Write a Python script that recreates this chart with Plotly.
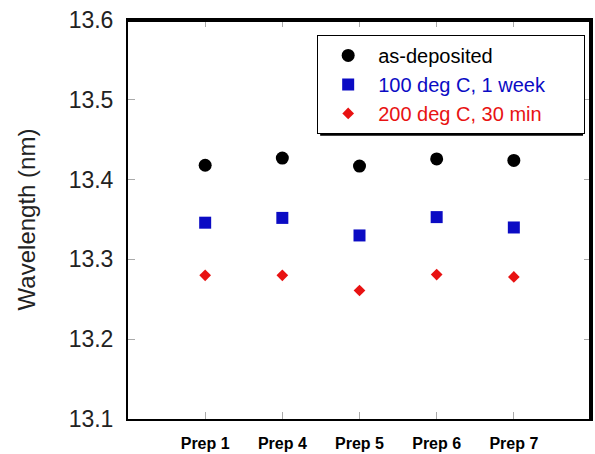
import plotly.graph_objects as go

categories = ["Prep 1", "Prep 4", "Prep 5", "Prep 6", "Prep 7"]
as_deposited = [13.418, 13.427, 13.417, 13.426, 13.424]
week_100 = [13.346, 13.352, 13.330, 13.353, 13.340]
min_200 = [13.280, 13.280, 13.261, 13.281, 13.278]
y_ticks = [13.1, 13.2, 13.3, 13.4, 13.5, 13.6]

xpos = list(range(1, len(categories) + 1))
FONT = "Liberation Sans, Arial, sans-serif"
BLUE = "#0b0bc4"
RED = "#e81212"
NB = "\u00a0"
X_RANGE = [0, 6]
Y_RANGE = [13.0999, 13.6001]

fig = go.Figure()
fig.add_trace(go.Scatter(x=xpos, y=as_deposited, mode="markers",
                         name="as-deposited",
                         marker=dict(symbol="circle", size=13, color="black")))
fig.add_trace(go.Scatter(x=xpos, y=week_100, mode="markers",
                         name=f"<span style='color:{BLUE}'>100 deg C, 1 week</span>" + NB * 6,
                         marker=dict(symbol="square", size=12, color=BLUE)))
fig.add_trace(go.Scatter(x=xpos, y=min_200, mode="markers",
                         name=f"<span style='color:{RED}'>200 deg C, 30 min</span>",
                         marker=dict(symbol="diamond", size=9, color=RED)))

# page body margin is removed by the post script, so figure pixels = page pixels
W, H = 595, 454
L, T = 128, 20
PR, PB = 593, 420
R, B = W - PR, H - PB
pw, ph = PR - L, PB - T

def px_x(p):
    return (p - L) / pw

def px_y(p):
    return 1 - (p - T) / ph

frame = dict(xref="paper", yref="paper", line=dict(color="black", width=2),
             layer="above")
tick_style = dict(showgrid=False, zeroline=False, showline=True,
                  linecolor="black", linewidth=2,
                  ticks="inside", ticklen=7, tickcolor="#aaaaaa", tickwidth=1)

fig.update_layout(
    width=W, height=H,
    margin=dict(l=L, r=R, t=T, b=B),
    paper_bgcolor="white", plot_bgcolor="white",
    font=dict(family=FONT, color="#222"),
    showlegend=True,
    legend=dict(x=px_x(318), y=px_y(35), xanchor="left", yanchor="top",
                bgcolor="white", bordercolor="black", borderwidth=1,
                font=dict(family=FONT, size=20, color="black"),
                itemwidth=50, itemsizing="trace"),
    xaxis=dict(range=X_RANGE, tickvals=xpos, ticktext=categories,
               mirror="allticks", **tick_style,
               tickfont=dict(family=FONT, size=16, color="black", weight="bold"),
               ticklabelstandoff=9, ticklabeloverflow="allow"),
    yaxis=dict(range=Y_RANGE, tickvals=y_ticks,
               ticktext=[f"{v:.1f}" for v in y_ticks],
               mirror="allticks", **tick_style,
               tickfont=dict(family=FONT, size=23, color="#222"),
               ticklabelstandoff=8, ticklabeloverflow="allow",
               title=dict(text="Wavelength (nm)", standoff=26,
                          font=dict(family=FONT, size=24, color="#222"))),
    xaxis2=dict(range=X_RANGE, tickvals=xpos, overlaying="x", side="top",
                showticklabels=False, **tick_style),
    yaxis2=dict(range=Y_RANGE, tickvals=y_ticks, overlaying="y", side="right",
                showticklabels=False, **tick_style),
    shapes=[
        dict(type="rect", xref="paper", yref="paper",
             x0=px_x(321), x1=px_x(585), y0=px_y(136), y1=px_y(38),
             fillcolor="black", line=dict(width=0), layer="above"),
        dict(type="line", x0=px_x(128), x1=px_x(593), y0=px_y(21), y1=px_y(21), **frame),
        dict(type="line", x0=px_x(592), x1=px_x(592), y0=px_y(20), y1=px_y(420), **frame),
    ],
)
# invisible helper trace so the top/right axes are drawn
fig.add_trace(go.Scatter(x=[xpos[0]], y=[y_ticks[0]], xaxis="x2", yaxis="y2",
                         mode="markers", marker=dict(opacity=0),
                         showlegend=False, hoverinfo="skip"))

fig.write_html("out.html", config={"displayModeBar": False},
               post_script="document.body.style.margin='0';"
                           "document.body.style.overflow='hidden';")
